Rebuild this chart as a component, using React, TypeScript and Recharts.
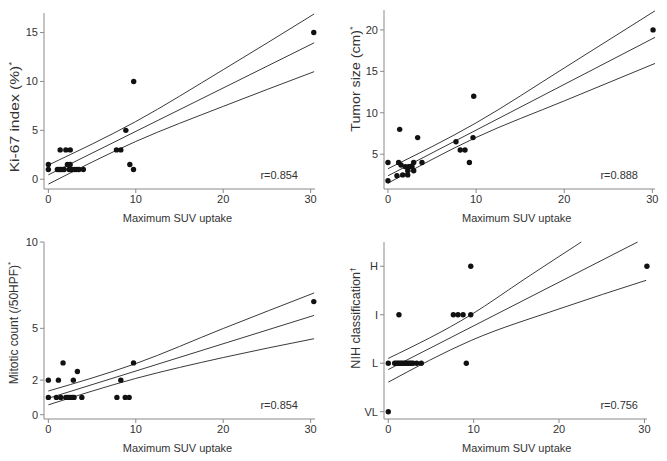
import React from "react";
import { ComposedChart, Line, Scatter, XAxis, YAxis } from "recharts";

const suvTicks = [0, 10, 20, 30];

// Ki-67 index vs max SUV
const ki67Suv = [0, 0, 1.35, 2.0, 2.5, 1.03, 1.23, 1.42, 1.6, 1.8, 2.37, 2.57, 2.75, 3.02, 3.25, 3.5, 4.0, 2.18, 2.49, 7.79, 8.29, 8.86, 9.32, 9.74, 9.76, 30.36];
const ki67Val = [1.5, 1, 3, 3, 3, 1, 1, 1, 1, 1, 1, 1, 1, 1, 1, 1, 1, 1.5, 1.5, 3, 3, 5, 1.5, 1, 10, 15];
const ki67FitX = [0, 30.4];
const ki67Fit = [0.45, 13.95];
const ki67BandX = [0, 10, 20, 30.4];
const ki67Upper = [1.45, 5.9, 11.2, 16.9];
const ki67Lower = [-0.5, 3.86, 7.45, 11.0];

// Tumor size vs max SUV
const tumorSuv = [0, 0, 1.21, 1.48, 1.33, 1.02, 1.67, 1.97, 2.35, 2.24, 2.24, 2.54, 2.73, 2.92, 2.92, 3.37, 3.86, 7.72, 8.2, 8.74, 9.24, 9.65, 9.73, 30.08];
const tumorVal = [4, 1.8, 4, 3.7, 8, 2.4, 2.5, 3.5, 3.5, 3, 2.5, 3.5, 3.5, 4, 3, 7, 4, 6.5, 5.5, 5.5, 4, 7, 12, 20];
const tumorFitX = [0, 30.3];
const tumorFit = [2.39, 19.1];
const tumorBandX = [0, 10, 20, 30.3];
const tumorUpper = [3.25, 8.78, 15.4, 22.3];
const tumorLower = [1.5, 7.02, 11.43, 15.95];

// Mitotic count vs max SUV
const mitoSuv = [0, 0.92, 1.42, 2.0, 2.18, 2.37, 2.57, 2.75, 2.94, 3.83, 7.84, 8.79, 9.24, 0, 1.15, 2.86, 8.29, 1.68, 3.32, 9.74, 30.36];
const mitoVal = [1, 1, 1, 1, 1, 1, 1, 1, 1, 1, 1, 1, 1, 2, 2, 2, 2, 3, 2.5, 3, 6.55];
const mitoFitX = [0, 30.4];
const mitoFit = [0.95, 5.75];
const mitoBandX = [0, 10, 20, 30.4];
const mitoUpper = [1.37, 2.96, 4.99, 7.05];
const mitoLower = [0.57, 2.1, 3.31, 4.4];

// NIH classification vs max SUV (0 = VL, 1 = L, 2 = I, 3 = H)
const nihLabels = ["VL", "L", "I", "H"];
const nihSuv = [0, 0, 0.75, 0.94, 1.14, 1.34, 1.52, 1.72, 1.92, 2.11, 2.31, 2.51, 2.7, 2.9, 3.33, 3.87, 9.14, 1.25, 7.62, 8.17, 8.76, 9.66, 9.66, 30.29];
const nihVal = [0, 1, 1, 1, 1, 1, 1, 1, 1, 1, 1, 1, 1, 1, 1, 1, 1, 2, 2, 2, 2, 2, 3, 3];
const nihFitX = [0, 29.2];
const nihFit = [0.87, 3.5];
const nihUpperX = [0, 9.7, 16, 22.6];
const nihUpper = [1.1, 2.0, 2.74, 3.5];
const nihLowerX = [0, 9.7, 20, 30.2];
const nihLower = [0.61, 1.47, 2.12, 2.71];

const FONT = '"Liberation Sans", Arial, Helvetica, sans-serif';
const TEXT = "#333";
const AXIS = "#8a8a8a";
const CURVE = "#3a3a3a";

type Pt = { x: number; y: number };
const zip = (xs: number[], ys: number[]): Pt[] => xs.map((x, i) => ({ x, y: ys[i] }));

const Dot = (p: any) => <circle cx={p.cx} cy={p.cy} r={2.7} fill="#111" />;

type PanelProps = {
  left: number;
  top: number;
  width: number;
  height: number;
  margin: { top: number; right: number; bottom: number; left: number };
  xDomain: [number, number];
  yDomain: [number, number];
  yTicks: number[];
  yFormat?: (v: number) => string;
  points: Pt[];
  fit: Pt[];
  upper: Pt[];
  lower: Pt[];
};

function Panel(p: PanelProps) {
  return (
    <div style={{ position: "absolute", left: p.left, top: p.top }}>
      <ComposedChart width={p.width} height={p.height} margin={p.margin}>
        <XAxis
          type="number"
          dataKey="x"
          domain={p.xDomain}
          ticks={suvTicks}
          interval={0}
          stroke={AXIS}
          tickSize={4}
          tick={{ fill: TEXT, fontSize: 11, fontFamily: FONT }}
          height={30}
        />
        <YAxis
          type="number"
          dataKey="y"
          domain={p.yDomain}
          ticks={p.yTicks}
          interval={0}
          stroke={AXIS}
          tickSize={4}
          width={30}
          tickFormatter={p.yFormat}
          tick={{ fill: TEXT, fontSize: 11, fontFamily: FONT }}
        />
        <Line data={p.upper} dataKey="y" type="monotone" stroke={CURVE} strokeWidth={1} dot={false} isAnimationActive={false} />
        <Line data={p.fit} dataKey="y" type="linear" stroke={CURVE} strokeWidth={1} dot={false} isAnimationActive={false} />
        <Line data={p.lower} dataKey="y" type="monotone" stroke={CURVE} strokeWidth={1} dot={false} isAnimationActive={false} />
        <Scatter data={p.points} shape={Dot} isAnimationActive={false} />
      </ComposedChart>
    </div>
  );
}

const textBase: React.CSSProperties = {
  position: "absolute",
  fontFamily: FONT,
  fontSize: 11,
  color: TEXT,
  whiteSpace: "nowrap",
  lineHeight: 1,
};

// y titles in the figure are stretched along their length, hence the per-title scale
function YTitle({ x, y, stretch, children }: { x: number; y: number; stretch: number; children: React.ReactNode }) {
  return (
    <div
      style={{
        ...textBase,
        fontSize: 12,
        left: x,
        top: y,
        transform: `translate(-50%, -50%) rotate(-90deg) scaleX(${stretch})`,
      }}
    >
      {children}
    </div>
  );
}

function XTitle({ x, y }: { x: number; y: number }) {
  return (
    <div style={{ ...textBase, left: x, top: y, transform: "translate(-50%, -50%)" }}>
      Maximum SUV uptake
    </div>
  );
}

function RLabel({ x, y, text }: { x: number; y: number; text: string }) {
  return (
    <div style={{ ...textBase, left: x, top: y, transform: "translate(-100%, -50%)" }}>{text}</div>
  );
}

const sup = (s: string) => <span style={{ fontSize: 8, verticalAlign: "super" }}>{s}</span>;

export default function App() {
  return (
    <div style={{ position: "absolute", left: 0, top: 0, width: 667, height: 461, background: "#fff" }}>
      <Panel
        left={0}
        top={0}
        width={333}
        height={230}
        margin={{ top: 13, right: 18, bottom: 11, left: 14 }}
        xDomain={[-0.5, 30.5]}
        yDomain={[-1, 17]}
        yTicks={[0, 5, 10, 15]}
        points={zip(ki67Suv, ki67Val)}
        fit={zip(ki67FitX, ki67Fit)}
        upper={zip(ki67BandX, ki67Upper)}
        lower={zip(ki67BandX, ki67Lower)}
      />
      <Panel
        left={330}
        top={0}
        width={337}
        height={230}
        margin={{ top: 10, right: 12, bottom: 11, left: 24 }}
        xDomain={[-0.45, 30.3]}
        yDomain={[0.8, 22.4]}
        yTicks={[5, 10, 15, 20]}
        points={zip(tumorSuv, tumorVal)}
        fit={zip(tumorFitX, tumorFit)}
        upper={zip(tumorBandX, tumorUpper)}
        lower={zip(tumorBandX, tumorLower)}
      />
      <Panel
        left={0}
        top={230}
        width={333}
        height={231}
        margin={{ top: 12, right: 18, bottom: 12, left: 14 }}
        xDomain={[-0.5, 30.5]}
        yDomain={[-0.25, 10]}
        yTicks={[0, 2, 5, 10]}
        points={zip(mitoSuv, mitoVal)}
        fit={zip(mitoFitX, mitoFit)}
        upper={zip(mitoBandX, mitoUpper)}
        lower={zip(mitoBandX, mitoLower)}
      />
      <Panel
        left={330}
        top={230}
        width={337}
        height={231}
        margin={{ top: 12, right: 20, bottom: 12, left: 24 }}
        xDomain={[-0.5, 30.3]}
        yDomain={[-0.15, 3.5]}
        yTicks={[0, 1, 2, 3]}
        yFormat={(v) => nihLabels[v] ?? ""}
        points={zip(nihSuv, nihVal)}
        fit={zip(nihFitX, nihFit)}
        upper={zip(nihUpperX, nihUpper)}
        lower={zip(nihLowerX, nihLower)}
      />

      <YTitle x={14} y={117} stretch={1.3}>Ki-67 index (%){sup("*")}</YTitle>
      <YTitle x={355} y={79} stretch={1.18}>Tumor size (cm){sup("*")}</YTitle>
      <YTitle x={13} y={323} stretch={1}>Mitotic count (/50HPF){sup("*")}</YTitle>
      <YTitle x={355} y={318} stretch={1.05}>NIH classification{sup("†")}</YTitle>

      <XTitle x={177.5} y={218} />
      <XTitle x={516.7} y={218} />
      <XTitle x={177.5} y={448} />
      <XTitle x={516.7} y={448} />

      <RLabel x={298} y={175} text="r=0.854" />
      <RLabel x={638} y={175} text="r=0.888" />
      <RLabel x={298} y={405} text="r=0.854" />
      <RLabel x={638} y={405} text="r=0.756" />
    </div>
  );
}
